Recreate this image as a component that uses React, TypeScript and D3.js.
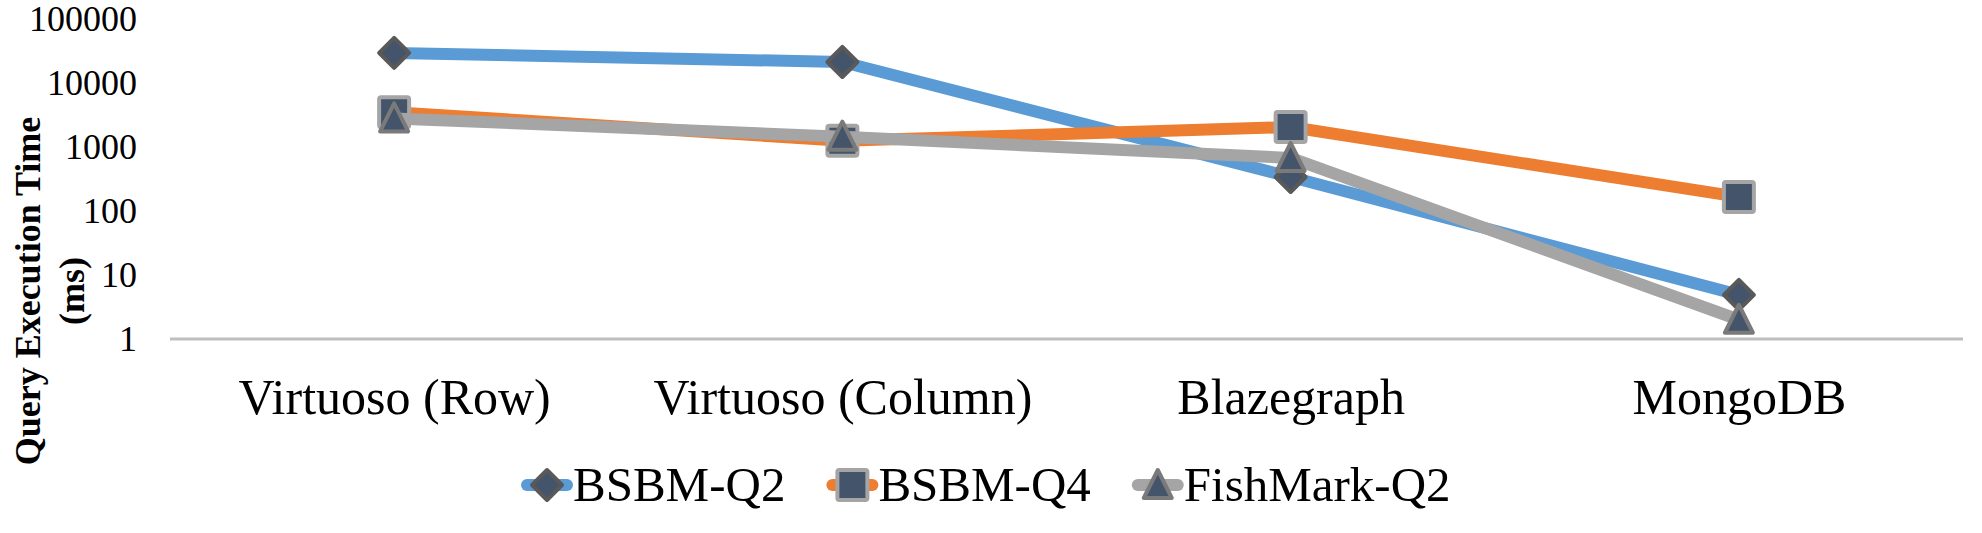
import React, { useRef, useEffect } from 'react';
import * as d3 from 'd3';

const categories = ['Virtuoso (Row)', 'Virtuoso (Column)', 'Blazegraph', 'MongoDB'];
const seriesNames = ['BSBM-Q2', 'BSBM-Q4', 'FishMark-Q2'];
const bsbmQ2 = [29500, 21300, 340, 4.9];
const bsbmQ4 = [3500, 1250, 2050, 166];
const fishMarkQ2 = [2800, 1450, 675, 2];
const yTicks = [1, 10, 100, 1000, 10000, 100000];

const W = 1982;
const H = 533;
const FONT = '"Times New Roman", "Liberation Serif", serif';

const lineColors = ['#5B9BD5', '#ED7D31', '#A5A5A5'];
const markerStroke = ['#595959', '#A5A5A5', '#7A7A7A'];
const markerFill = '#44546A';
const markerTypes = ['diamond', 'square', 'triangle'];

// draws one marker centred on 0,0 inside g
function drawMarker(g: d3.Selection<SVGGElement, unknown, null, undefined>, type: string, i: number) {
    if (type === 'square') {
        g.append('rect')
            .attr('x', -15).attr('y', -15)
            .attr('width', 30).attr('height', 30)
            .attr('rx', 2)
            .attr('fill', markerFill)
            .attr('stroke', markerStroke[i])
            .attr('stroke-width', 4);
    } else if (type === 'diamond') {
        g.append('path')
            .attr('d', 'M0,-15L15,0L0,15L-15,0Z')
            .attr('fill', markerFill)
            .attr('stroke', markerStroke[i])
            .attr('stroke-width', 4)
            .attr('stroke-linejoin', 'round');
    } else {
        g.append('path')
            .attr('d', 'M0,-15L14,13L-14,13Z')
            .attr('fill', markerFill)
            .attr('stroke', markerStroke[i])
            .attr('stroke-width', 4)
            .attr('stroke-linejoin', 'round');
    }
}

const App: React.FC = () => {
    const ref = useRef<SVGSVGElement | null>(null);

    useEffect(() => {
        if (!ref.current) return;
        const svg = d3.select(ref.current);
        svg.selectAll('*').remove();

        const x = d3.scalePoint<string>()
            .domain(categories)
            .range([170, 1963])
            .padding(0.5);

        const y = d3.scaleLog()
            .domain([1, 100000])
            .range([339, 19]);

        // y tick labels
        const yAxis = d3.axisLeft(y)
            .tickValues(yTicks)
            .tickFormat(d3.format('d'))
            .tickSize(0)
            .tickPadding(0);
        const yg = svg.append('g')
            .attr('transform', 'translate(137,0)')
            .call(yAxis);
        yg.select('.domain').remove();
        yg.selectAll('text')
            .attr('font-family', FONT)
            .attr('font-size', 36)
            .attr('fill', '#000')
            .attr('dy', '0.33em');

        // horizontal axis line
        svg.append('line')
            .attr('x1', 170).attr('x2', 1963)
            .attr('y1', y(1)).attr('y2', y(1))
            .attr('stroke', '#BFBFBF')
            .attr('stroke-width', 3);

        // category labels
        const xAxis = d3.axisBottom(x).tickSize(0).tickPadding(0);
        const xg = svg.append('g')
            .attr('transform', 'translate(0,414)')
            .call(xAxis);
        xg.select('.domain').remove();
        xg.selectAll('text')
            .attr('font-family', FONT)
            .attr('font-size', 50)
            .attr('fill', '#000')
            .attr('y', 0)
            .attr('dy', 0);

        // y title
        const title = svg.append('text')
            .attr('transform', 'translate(0,291) rotate(-90)')
            .attr('text-anchor', 'middle')
            .attr('font-family', FONT)
            .attr('font-size', 36)
            .attr('font-weight', 'bold');
        title.append('tspan').attr('x', 0).attr('y', 40).text('Query Execution Time');
        title.append('tspan').attr('x', 0).attr('y', 84).text('(ms)');

        const allSeries = [bsbmQ2, bsbmQ4, fishMarkQ2];
        const line = d3.line<number>()
            .x((_, i) => x(categories[i]) as number)
            .y(d => y(d));

        allSeries.forEach((vals, si) => {
            svg.append('path')
                .attr('d', line(vals))
                .attr('fill', 'none')
                .attr('stroke', lineColors[si])
                .attr('stroke-width', 12)
                .attr('stroke-linejoin', 'round')
                .attr('stroke-linecap', 'round');
            vals.forEach((v, i) => {
                const g = svg.append('g')
                    .attr('transform', `translate(${x(categories[i])},${y(v)})`);
                drawMarker(g, markerTypes[si], si);
            });
        });

        // legend
        const legendY = 485;
        let lx = 521;
        seriesNames.forEach((name, si) => {
            svg.append('line')
                .attr('x1', lx + 6).attr('x2', lx + 46)
                .attr('y1', legendY).attr('y2', legendY)
                .attr('stroke', lineColors[si])
                .attr('stroke-width', 12)
                .attr('stroke-linecap', 'round');
            const g = svg.append('g').attr('transform', `translate(${lx + 26},${legendY})`);
            drawMarker(g, markerTypes[si], si);
            const t = svg.append('text')
                .attr('x', lx + 52)
                .attr('y', legendY + 16)
                .attr('font-family', FONT)
                .attr('font-size', 49)
                .attr('fill', '#000')
                .text(name);
            const tw = (t.node() as SVGTextElement).getComputedTextLength();
            lx = lx + 52 + tw + 41;
        });
    }, []);

    return (
        <svg
            ref={ref}
            width={W}
            height={H}
            style={{ position: 'absolute', left: 0, top: 0, background: '#fff' }}
        />
    );
};

export default App;
